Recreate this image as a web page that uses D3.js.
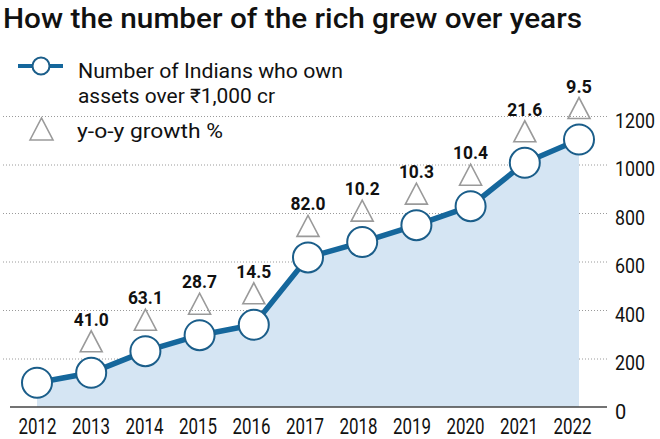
<!DOCTYPE html>
<html>
<head>
<meta charset="utf-8">
<script src="https://cdn.jsdelivr.net/npm/d3@7"></script>
<style>
  html, body { margin: 0; padding: 0; background: #fff; }
  svg { display: block; }
</style>
</head>
<body>
<svg id="chart" width="660" height="439"></svg>
<script>
const years = ["2012","2013","2014","2015","2016","2017","2018","2019","2020","2021","2022"];
const richCount = [100, 141, 230, 296, 339, 617, 680, 750, 828, 1007, 1103];
const yoyGrowth = [null, "41.0", "63.1", "28.7", "14.5", "82.0", "10.2", "10.3", "10.4", "21.6", "9.5"];
const yTicks = [0, 200, 400, 600, 800, 1000, 1200];
const titleText = "How the number of the rich grew over years";
const legendLine1 = "Number of Indians who own";
const legendLine2 = "assets over \u20B91,000 cr";
const legendTri = "y-o-y growth %";

const data = years.map((yr, i) => ({ year: yr, value: richCount[i], growth: yoyGrowth[i] }));

const svg = d3.select("#chart");
const FONT = "Roboto, 'Noto Sans', sans-serif";

const x = d3.scalePoint().domain(years).range([37, 579]);
const xLab = d3.scalePoint().domain(years).range([37, 572]);
const y = d3.scaleLinear().domain([0, 1200]).range([407, 116]);

function fit(sel, w) {
  sel.attr("textLength", w).attr("lengthAdjust", "spacingAndGlyphs");
}

// Gridlines
const grid = svg.append("g").attr("transform", "translate(607,0)")
  .call(d3.axisLeft(y).tickValues(yTicks.filter(d => d > 0)).tickSize(604).tickFormat(""));
grid.select(".domain").remove();
grid.selectAll("line").attr("stroke", "#9a9a9a").attr("stroke-width", 1).attr("stroke-dasharray", "1,2");

// Area
svg.append("path").datum(data)
  .attr("fill", "#d5e5f3")
  .attr("d", d3.area().x(d => x(d.year)).y0(y(0)).y1(d => y(d.value)));

// Baseline
svg.append("line").attr("x1", 10).attr("x2", 607).attr("y1", y(0)).attr("y2", y(0))
  .attr("stroke", "#444").attr("stroke-width", 1.5);

// Line
svg.append("path").datum(data)
  .attr("fill", "none").attr("stroke", "#15679c").attr("stroke-width", 5.5)
  .attr("d", d3.line().x(d => x(d.year)).y(d => y(d.value)));

// Circles
svg.append("g").selectAll("circle").data(data).join("circle")
  .attr("cx", d => x(d.year)).attr("cy", d => y(d.value)).attr("r", 15)
  .attr("fill", "#fff").attr("stroke", "#1b5e8a").attr("stroke-width", 2);

// Triangles and growth labels
const gd = data.filter(d => d.growth !== null);
svg.append("g").selectAll("path").data(gd).join("path")
  .attr("d", d => {
    const cx = x(d.year), b = y(d.value) - 21;
    return `M${cx - 11},${b}L${cx},${b - 21}L${cx + 11},${b}Z`;
  })
  .attr("fill", "none").attr("stroke", "#9a9a9a").attr("stroke-width", 1.6);

svg.append("g").selectAll("text").data(gd).join("text")
  .attr("x", d => x(d.year)).attr("y", d => y(d.value) - 47)
  .attr("text-anchor", "middle")
  .style("font-family", FONT)
  .style("font-weight", "700").style("font-size", "19px").attr("fill", "#111")
  .text(d => d.growth)
  .each(function(d) { d3.select(this).call(fit, d.growth.length === 4 ? 35 : 26); });

// X axis labels
const xa = svg.append("g").attr("transform", `translate(0,${y(0)})`)
  .call(d3.axisBottom(xLab).tickSize(0).tickPadding(11.5));
xa.select(".domain").remove();
xa.selectAll("text").style("font-family", FONT).style("font-size", "22px").attr("fill", "#111")
  .call(fit, 38);

// Y axis labels
const ya = svg.append("g").attr("transform", "translate(607,0)")
  .call(d3.axisRight(y).tickValues(yTicks).tickSize(0).tickPadding(8).tickFormat(d3.format("d")));
ya.select(".domain").remove();
ya.selectAll("text").attr("dy", "0.55em").style("font-family", FONT).style("font-size", "20px").attr("fill", "#111")
  .each(function(d) { const n = String(d).length; if (n === 4) d3.select(this).call(fit, 40); else if (n === 3) d3.select(this).call(fit, 30); });

// Title
svg.append("text").attr("x", 3).attr("y", 28)
  .style("font-family", FONT).style("font-weight", "500").style("font-size", "27px").attr("fill", "#111")
  .text(titleText).call(fit, 579);

// Legend
const lg = svg.append("g");
lg.append("line").attr("x1", 18).attr("x2", 63).attr("y1", 66).attr("y2", 66)
  .attr("stroke", "#15679c").attr("stroke-width", 4);
lg.append("circle").attr("cx", 41).attr("cy", 66).attr("r", 8.5)
  .attr("fill", "#fff").attr("stroke", "#1b5e8a").attr("stroke-width", 2);
lg.append("path").attr("d", "M30,140L41.5,118L53,140Z")
  .attr("fill", "#fff").attr("stroke", "#9a9a9a").attr("stroke-width", 1.6);
lg.append("text").attr("x", 78).attr("y", 78).style("font-family", FONT).style("font-size", "20px").attr("fill", "#111")
  .text(legendLine1).call(fit, 265);
lg.append("text").attr("x", 78).attr("y", 103).style("font-family", FONT).style("font-size", "20px").attr("fill", "#111")
  .text(legendLine2).call(fit, 197);
lg.append("text").attr("x", 77).attr("y", 138).style("font-family", FONT).style("font-size", "20px").attr("fill", "#111")
  .text(legendTri).call(fit, 146);
</script>
</body>
</html>
